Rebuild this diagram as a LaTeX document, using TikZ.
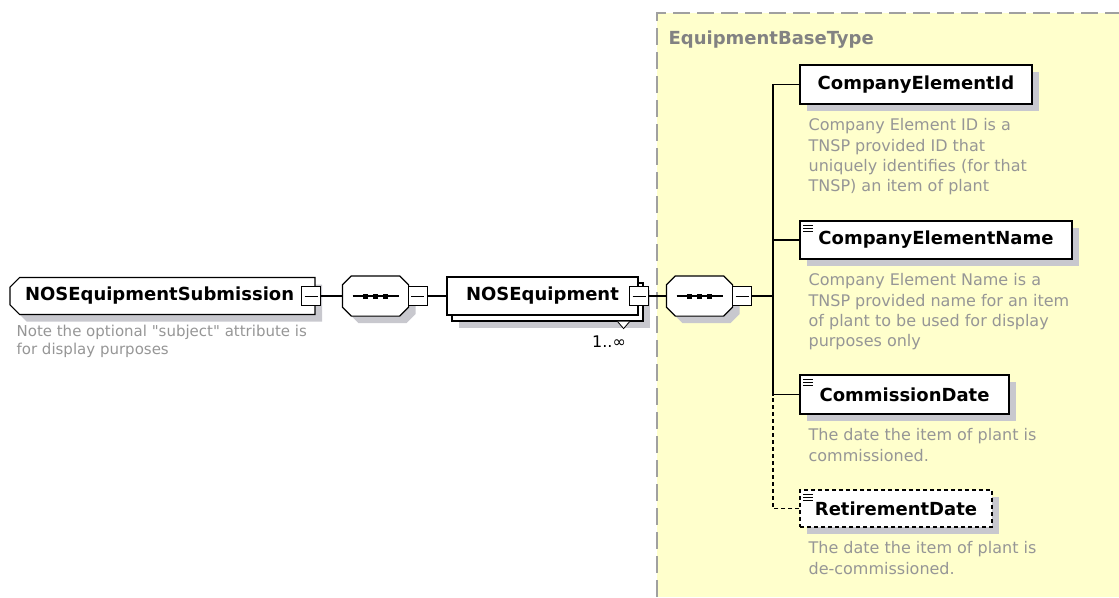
\documentclass[tikz,border=0pt]{standalone}
\usepackage{fontspec}
\setmainfont{DejaVu Sans}[Ligatures=TeXOff]
\usetikzlibrary{shapes.misc,shadows}
\definecolor{typefill}{RGB}{255,255,204}
\definecolor{typeedge}{RGB}{160,160,160}
\definecolor{shadegray}{RGB}{200,200,206}
\definecolor{notegray}{RGB}{150,150,150}
\definecolor{titlegray}{RGB}{130,130,130}

\newcommand\seqshape[1]{%
    \fill[shadegray,transform canvas={shift={(7pt,-7pt)}}] ([xshift=9pt]#1.north west) -- ([xshift=-9pt]#1.north east)
        -- ([yshift=-9pt]#1.north east) -- ([yshift=9pt]#1.south east) -- ([xshift=-9pt]#1.south east)
        -- ([xshift=9pt]#1.south west) -- ([yshift=9pt]#1.south west) -- ([yshift=-9pt]#1.north west) -- cycle;
    \draw[fill=white] ([xshift=9pt]#1.north west) -- ([xshift=-9pt]#1.north east)
        -- ([yshift=-9pt]#1.north east) -- ([yshift=9pt]#1.south east) -- ([xshift=-9pt]#1.south east)
        -- ([xshift=9pt]#1.south west) -- ([yshift=9pt]#1.south west) -- ([yshift=-9pt]#1.north west) -- cycle;
    \draw ([xshift=-23pt]#1.center) -- ([xshift=23pt]#1.center);
    \foreach \d in {-10,0,10}
        \fill ([xshift=\d pt]#1.center) +(-2.5pt,-2.5pt) rectangle +(2.5pt,2.5pt);
}

\begin{document}
\begin{tikzpicture}[x=1pt,y=-1pt,line width=1.2pt,
    boxshadow/.style={general shadow={fill=shadegray,shadow xshift=7pt,shadow yshift=-7pt}},
    elem/.style={draw,fill=white,inner sep=0pt,minimum height=38pt,
        font=\fontsize{18}{20}\selectfont\bfseries,boxshadow},
    simple/.style={path picture={\foreach \k in {4,7,10}
        \draw[solid,line width=0.8pt] ([xshift=3pt,yshift=-\k pt]path picture bounding box.north west) -- ++(10pt,0pt);}},
    minusbox/.style={draw,fill=white,minimum width=19pt,minimum height=19pt,inner sep=0pt,line width=1pt,
        path picture={\draw[line width=1pt] ([xshift=3pt]path picture bounding box.west) -- ([xshift=-3pt]path picture bounding box.east);}},
    seq/.style={inner sep=0pt,minimum width=65pt,minimum height=39pt},
    note/.style={inner sep=0pt,align=left,text=notegray,font=\fontsize{16}{20.3}\selectfont},
    ]
    \useasboundingbox (0,0) rectangle (1119,597);
    \fill[typefill] (657,13) rectangle (1119,597);
    \draw[typeedge,line width=2pt,dash pattern=on 17pt off 7pt] (657,597) |- (1119,13);
    \node[anchor=west,inner sep=0pt,text=titlegray,font=\fontsize{18}{20}\selectfont\bfseries] (basetitle) at (668,40) {EquipmentBaseType};

    \node[elem,chamfered rectangle,chamfered rectangle corners={north west,south west},chamfered rectangle xsep=6pt,
        minimum width=305pt,minimum height=37pt,text width=275pt,align=left] (root) at (162.5,296) {NOSEquipmentSubmission};
    \node[minusbox] (rootm) at (311,296) {};
    \node[note,font=\fontsize{15}{18}\selectfont,anchor=north west] (rootnote) at (16,324) {Note the optional "subject" attribute is\\for display purposes};

    \node[seq] (seqa) at (375.5,296) {};
    \seqshape{seqa}
    \node[minusbox] (seqam) at (417.5,296) {};

    \node[draw,fill=white,inner sep=0pt,minimum width=191pt,minimum height=38pt,font=\fontsize{18}{20}\selectfont\bfseries,
        general shadow={fill=shadegray,shadow xshift=12pt,shadow yshift=-13pt},
        copy shadow={shadow xshift=5pt,shadow yshift=-6pt}] (nose) at (542.5,296) {NOSEquipment};
    \fill[white] ([shift={(-21,6)}]nose.south east) -- ++(12,0) -- ++(-6,7) -- cycle;
    \draw[line width=0.8pt] ([shift={(-21,6)}]nose.south east) -- ++(6,7) -- ++(6,-7);
    \node[minusbox] (nosem) at (639,296) {};
    \node[inner sep=0pt,font=\fontsize{16}{18}\selectfont] (noseocc) at (609,342) {1..∞};

    \node[seq] (seqb) at (699.5,296) {};
    \seqshape{seqb}
    \node[minusbox] (seqbm) at (742,296) {};
    \coordinate (bus) at (773,296);

    \node[elem,minimum width=232pt,minimum height=39pt] (cid) at (916,84.5) {CompanyElementId};
    \node[note,anchor=north west] (cidnote) at (808,118) {Company Element ID is a\\TNSP provided ID that\\uniquely identifies (for that\\TNSP) an item of plant};
    \node[elem,simple,minimum width=272pt] (cname) at (936,240) {CompanyElementName};
    \node[note,anchor=north west] (cnamenote) at (808,273) {Company Element Name is a\\TNSP provided name for an item\\of plant to be used for display\\purposes only};
    \node[elem,simple,minimum width=209pt,minimum height=39pt] (cdate) at (904.5,394.5) {CommissionDate};
    \node[note,anchor=north west] (cdatenote) at (808,428) {The date the item of plant is\\commissioned.};
    \node[elem,simple,dash pattern=on 4pt off 3pt,minimum width=192pt,minimum height=37pt] (rdate) at (896,508.5) {RetirementDate};
    \node[note,anchor=north west] (rdatenote) at (808,541) {The date the item of plant is\\de-commissioned.};

    \draw (rootm.east) -- (seqa.west);
    \draw (seqam.east) -- (nose.west);
    \draw (nosem.east) -- (seqb.west);
    \draw (seqbm.east) -- (bus);
    \draw (cid.west) -| (bus);
    \draw (cname.west) -- (cname.west -| bus);
    \draw (cdate.west) -| (bus);
    \draw[dash pattern=on 4pt off 3pt] (rdate.west) -| (cdate.west -| bus);
\end{tikzpicture}
\end{document}
